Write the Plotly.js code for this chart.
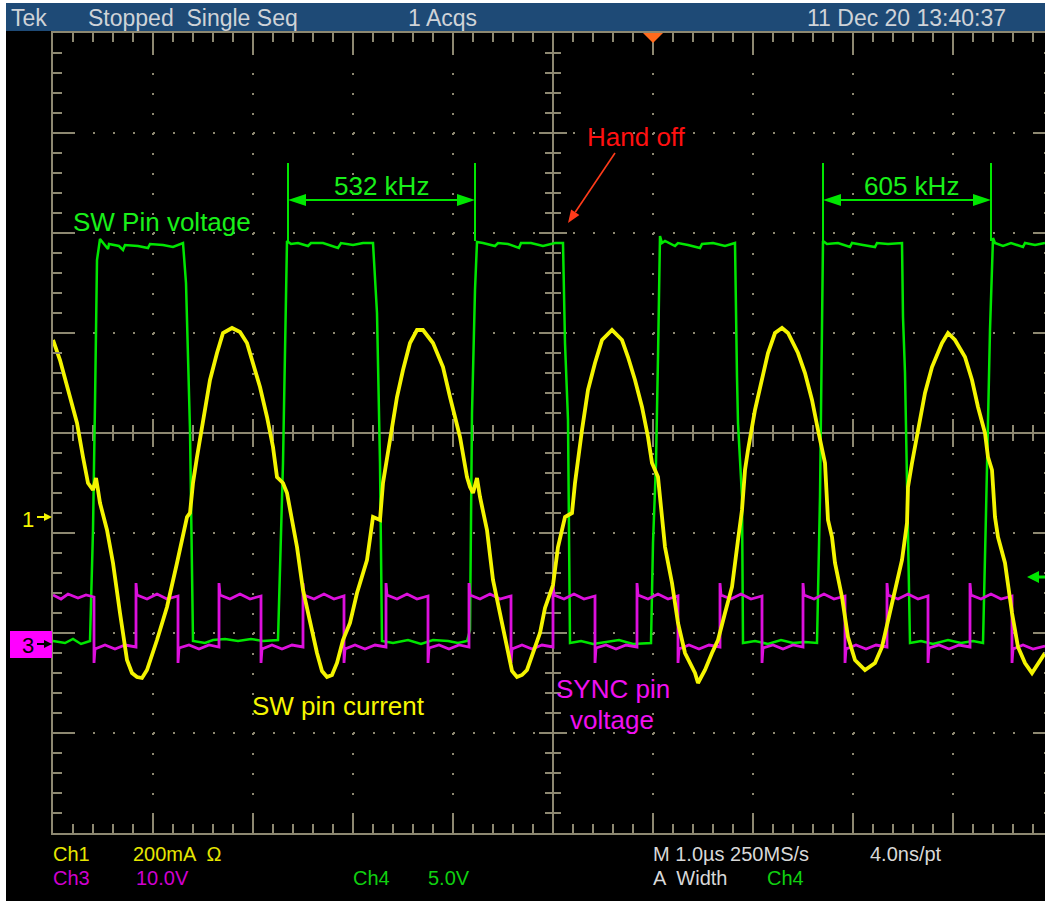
<!DOCTYPE html>
<html><head><meta charset="utf-8">
<script src="https://cdn.plot.ly/plotly-3.0.1.min.js"></script>
<style>
html,body{margin:0;padding:0;background:#fff;overflow:hidden}
#wrap{width:1045px;height:902px;overflow:hidden;position:relative}
#plot{width:1053px;height:902px}
</style>
</head><body><div id="wrap"><div id="plot"></div></div>
<script>
// Time in µs (1 µs/div, 0 = left graticule edge); vertical in screen divisions (0 = bottom)
// Ch4 – SW pin voltage (green)
const swVoltage = [[0,1.92],[0.12,1.90],[0.20,1.94],[0.28,1.89],[0.37,1.92],[0.40,3.03],[0.42,4.30],[0.44,5.73],[0.47,5.94],[0.52,5.88],[0.55,5.84],[0.56,5.89],[0.66,5.87],[0.70,5.83],[0.72,5.88],[0.85,5.87],[0.95,5.85],[0.97,5.89],[1.10,5.88],[1.20,5.86],[1.30,5.90],[1.33,5.50],[1.37,4.03],[1.40,1.92],[1.52,1.90],[1.60,1.93],[1.72,1.94],[1.85,1.92],[1.98,1.94],[2.10,1.92],[2.25,1.93],[2.30,3.70],[2.34,5.92],[2.38,5.89],[2.45,5.90],[2.55,5.87],[2.58,5.90],[2.70,5.90],[2.85,5.85],[2.88,5.90],[3.00,5.88],[3.10,5.90],[3.20,5.90],[3.24,5.20],[3.27,3.70],[3.29,1.92],[3.40,1.90],[3.55,1.93],[3.68,1.89],[3.80,1.93],[3.95,1.92],[4.05,1.90],[4.14,1.92],[4.17,2.03],[4.19,4.20],[4.22,5.43],[4.24,5.91],[4.30,5.90],[4.42,5.87],[4.45,5.90],[4.55,5.89],[4.66,5.85],[4.68,5.90],[4.78,5.90],[4.90,5.87],[5.02,5.90],[5.10,5.90],[5.12,4.90],[5.15,4.13],[5.17,1.90],[5.28,1.92],[5.40,1.89],[5.52,1.91],[5.66,1.93],[5.80,1.89],[5.98,1.90],[6.00,2.90],[6.03,3.70],[6.05,4.76],[6.07,5.97],[6.09,5.90],[6.12,5.92],[6.22,5.87],[6.25,5.90],[6.35,5.88],[6.47,5.85],[6.49,5.89],[6.60,5.90],[6.72,5.87],[6.82,5.90],[6.84,4.56],[6.85,4.10],[6.89,3.36],[6.90,1.90],[7.02,1.92],[7.15,1.89],[7.28,1.93],[7.40,1.90],[7.52,1.91],[7.64,1.90],[7.67,3.36],[7.70,5.92],[7.74,5.89],[7.85,5.90],[7.97,5.86],[7.99,5.90],[8.10,5.88],[8.22,5.86],[8.24,5.90],[8.35,5.89],[8.49,5.90],[8.50,5.16],[8.52,4.60],[8.53,4.10],[8.55,3.20],[8.57,1.90],[8.68,1.92],[8.80,1.89],[8.95,1.93],[9.08,1.90],[9.20,1.92],[9.30,1.90],[9.33,3.20],[9.37,5.03],[9.40,5.95],[9.42,5.90],[9.50,5.87],[9.58,5.90],[9.70,5.86],[9.72,5.90],[9.82,5.88],[9.92,5.90]];

// Ch3 – SYNC pin voltage (magenta)
const syncVoltage = [[0,2.38],[0.08,2.34],[0.15,2.39],[0.25,2.35],[0.33,2.38],[0.41,2.36],
[0.41,1.70],[0.42,1.84],[0.52,1.88],[0.62,1.84],[0.72,1.88],[0.83,1.86],
[0.83,2.50],[0.84,2.38],[0.94,2.34],[1.04,2.39],[1.14,2.34],[1.25,2.37],
[1.25,1.70],[1.26,1.85],[1.36,1.88],[1.46,1.84],[1.56,1.88],[1.66,1.86],
[1.66,2.50],[1.67,2.38],[1.77,2.34],[1.87,2.39],[1.97,2.34],[2.08,2.37],
[2.08,1.70],[2.09,1.84],[2.19,1.88],[2.29,1.84],[2.39,1.88],[2.50,1.86],
[2.50,2.50],[2.51,2.38],[2.61,2.34],[2.71,2.39],[2.81,2.34],[2.91,2.37],
[2.91,1.70],[2.92,1.84],[3.02,1.88],[3.12,1.84],[3.22,1.88],[3.33,1.86],
[3.33,2.50],[3.34,2.38],[3.44,2.34],[3.54,2.39],[3.64,2.34],[3.75,2.37],
[3.75,1.70],[3.76,1.85],[3.86,1.88],[3.96,1.84],[4.06,1.88],[4.16,1.86],
[4.16,2.50],[4.17,2.38],[4.27,2.34],[4.37,2.39],[4.47,2.34],[4.58,2.37],
[4.58,1.70],[4.59,1.84],[4.69,1.88],[4.79,1.84],[4.89,1.88],[5.00,1.86],
[5.00,2.50],[5.01,2.38],[5.11,2.34],[5.21,2.39],[5.31,2.34],[5.42,2.37],
[5.42,1.70],[5.43,1.85],[5.53,1.88],[5.63,1.84],[5.73,1.88],[5.84,1.86],
[5.84,2.50],[5.85,2.38],[5.95,2.34],[6.05,2.39],[6.15,2.34],[6.25,2.37],
[6.25,1.70],[6.26,1.84],[6.36,1.88],[6.46,1.84],[6.56,1.88],[6.67,1.86],
[6.67,2.50],[6.68,2.38],[6.78,2.34],[6.88,2.39],[6.98,2.34],[7.09,2.37],
[7.09,1.70],[7.10,1.85],[7.20,1.88],[7.30,1.84],[7.40,1.88],[7.50,1.86],
[7.50,2.50],[7.51,2.38],[7.61,2.34],[7.71,2.39],[7.81,2.34],[7.92,2.37],
[7.92,1.70],[7.93,1.84],[8.03,1.88],[8.13,1.84],[8.23,1.88],[8.34,1.86],
[8.34,2.50],[8.35,2.38],[8.45,2.34],[8.55,2.39],[8.65,2.34],[8.75,2.37],
[8.75,1.70],[8.76,1.85],[8.86,1.88],[8.96,1.84],[9.06,1.88],[9.17,1.86],
[9.17,2.50],[9.18,2.38],[9.28,2.34],[9.38,2.39],[9.48,2.34],[9.59,2.37],
[9.59,1.70],[9.60,1.84],[9.70,1.88],[9.80,1.84],[9.92,1.87]];

// Ch1 – SW pin current (yellow)
const swCurrent = [[0.00,4.93],[0.07,4.73],[0.17,4.36],[0.24,4.10],[0.30,3.76],[0.35,3.50],[0.40,3.43],[0.43,3.55],[0.45,3.43],[0.47,3.30],[0.54,3.03],[0.60,2.70],[0.67,2.20],[0.74,1.73],[0.79,1.60],[0.84,1.56],[0.89,1.55],[0.94,1.63],[1.04,1.93],[1.14,2.26],[1.24,2.70],[1.34,3.16],[1.37,3.20],[1.40,3.50],[1.44,3.76],[1.50,4.13],[1.57,4.53],[1.64,4.80],[1.70,5.00],[1.79,5.05],[1.87,5.01],[1.94,4.90],[2.00,4.70],[2.07,4.46],[2.14,4.16],[2.20,3.86],[2.24,3.56],[2.30,3.50],[2.34,3.40],[2.37,3.23],[2.44,2.86],[2.50,2.43],[2.57,2.10],[2.64,1.80],[2.69,1.62],[2.74,1.56],[2.79,1.58],[2.84,1.70],[2.90,1.93],[2.97,2.10],[3.04,2.40],[3.14,2.73],[3.20,3.16],[3.27,3.13],[3.30,3.50],[3.37,3.96],[3.44,4.36],[3.50,4.63],[3.57,4.90],[3.64,5.03],[3.70,5.03],[3.80,4.90],[3.90,4.66],[3.97,4.36],[4.07,3.96],[4.14,3.56],[4.17,3.46],[4.20,3.40],[4.24,3.55],[4.27,3.36],[4.34,3.03],[4.40,2.53],[4.47,2.20],[4.54,1.83],[4.59,1.62],[4.64,1.56],[4.69,1.58],[4.74,1.63],[4.80,1.80],[4.87,2.00],[4.92,2.25],[4.97,2.40],[5.00,2.48],[5.05,2.86],[5.12,3.16],[5.19,3.20],[5.22,3.50],[5.29,4.03],[5.35,4.43],[5.42,4.70],[5.49,4.93],[5.59,5.03],[5.69,4.93],[5.75,4.76],[5.82,4.53],[5.89,4.26],[5.95,3.96],[5.99,3.70],[6.05,3.56],[6.09,3.16],[6.12,2.86],[6.19,2.50],[6.25,2.10],[6.32,1.80],[6.42,1.60],[6.45,1.50],[6.52,1.63],[6.59,1.80],[6.65,1.93],[6.72,2.20],[6.79,2.46],[6.85,2.93],[6.89,3.23],[6.92,3.63],[6.95,3.83],[7.02,4.23],[7.09,4.56],[7.15,4.80],[7.22,5.00],[7.29,5.05],[7.35,5.00],[7.45,4.80],[7.52,4.60],[7.59,4.33],[7.65,4.03],[7.69,3.86],[7.72,3.70],[7.75,3.13],[7.79,2.96],[7.82,2.70],[7.89,2.36],[7.95,1.96],[8.02,1.73],[8.12,1.63],[8.22,1.70],[8.29,1.86],[8.35,2.13],[8.42,2.43],[8.49,2.73],[8.54,3.10],[8.55,3.46],[8.59,3.70],[8.65,4.03],[8.72,4.40],[8.79,4.66],[8.89,4.90],[8.95,5.00],[9.02,4.93],[9.12,4.76],[9.19,4.53],[9.25,4.26],[9.32,4.00],[9.35,3.76],[9.39,3.63],[9.42,3.16],[9.45,2.96],[9.52,2.70],[9.59,2.20],[9.65,1.86],[9.72,1.70],[9.79,1.60],[9.85,1.70],[9.92,1.80]];

// Frequency markers (µs positions of the measured periods) and labels
const freqLabels = ["532 kHz", "605 kHz"];
const freqStart = [2.35, 7.70];
const freqEnd = [4.22, 9.38];

const headerTexts = ["Tek", "Stopped  Single Seq", "1 Acqs", "11 Dec 20 13:40:37"];
const footerRow1 = ["Ch1", "200mA  Ω", "M 1.0µs 250MS/s", "4.0ns/pt"];
const footerRow2 = ["Ch3", "10.0V", "Ch4", "5.0V", "A  Width", "Ch4"];

// ---------- styling ----------
const GRAT = '#8d8871';
const GREEN = '#00e600';
const YELLOW = '#f4f400';
const MAGENTA = '#dd10dd';
const TXTGREEN = '#19f019';
const px = v => (v - 53) / 1000;      // pixel -> paper x
const py = v => (833 - v) / 800;      // pixel -> paper y

// centre crosshair (graticule)
const gx = [], gy = [];
gx.push(5, 5, null, 0, 10, null); gy.push(0, 8, null, 4, 4, null);
for (let k = 1; k < 40; k++) { const v = k * 0.2; const h = (k % 5 === 0) ? 0.14 : 0.08; gx.push(5 - h, 5 + h, null); gy.push(v, v, null); }
for (let k = 1; k < 50; k++) { const t = k * 0.2; const h = (k % 5 === 0) ? 0.14 : 0.08; gx.push(t, t, null); gy.push(4 - h, 4 + h, null); }

const traces = [
  {x: gx, y: gy, mode: 'lines', line: {color: GRAT, width: 2}, hoverinfo: 'skip', showlegend: false},
  {x: swVoltage.map(p => p[0]), y: swVoltage.map(p => p[1]), mode: 'lines', line: {color: GREEN, width: 2.5}, showlegend: false},
  {x: syncVoltage.map(p => p[0]), y: syncVoltage.map(p => p[1]), mode: 'lines', line: {color: MAGENTA, width: 2.8}, showlegend: false},
  {x: swCurrent.map(p => p[0]), y: swCurrent.map(p => p[1]), mode: 'lines', line: {color: YELLOW, width: 3.8}, showlegend: false}
];

const shapes = [
  {type: 'rect', xref: 'paper', yref: 'paper', x0: px(6), x1: px(1060), y0: py(901), y1: py(31), fillcolor: '#000', line: {width: 0}, layer: 'below'},
  {type: 'rect', xref: 'paper', yref: 'paper', x0: px(6), x1: px(1060), y0: py(31), y1: py(3), fillcolor: '#1e4a76', line: {width: 0}},
  {type: 'path', xref: 'paper', yref: 'paper', path: `M ${px(643)} ${py(33)} L ${px(663)} ${py(33)} L ${px(653)} ${py(43)} Z`, fillcolor: '#ff6a1c', line: {width: 0}},
  // Ch3 ground marker box
  {type: 'rect', xref: 'paper', yref: 'paper', x0: px(10), x1: px(52), y0: py(658), y1: py(631), fillcolor: '#ff00ff', line: {width: 0}},
  {type: 'line', xref: 'paper', yref: 'paper', x0: px(37), x1: px(45), y0: py(644), y1: py(644), line: {color: '#000', width: 2}},
  {type: 'path', xref: 'paper', yref: 'paper', path: `M ${px(52)} ${py(644)} L ${px(44)} ${py(640)} L ${px(44)} ${py(648)} Z`, fillcolor: '#000', line: {width: 0}},
  // Ch1 marker arrow
  {type: 'line', xref: 'paper', yref: 'paper', x0: px(37), x1: px(45), y0: py(517), y1: py(517), line: {color: YELLOW, width: 2}},
  {type: 'path', xref: 'paper', yref: 'paper', path: `M ${px(52)} ${py(517)} L ${px(44)} ${py(513)} L ${px(44)} ${py(521)} Z`, fillcolor: YELLOW, line: {width: 0}},
  // right trigger-level arrow
  {type: 'line', xref: 'x', yref: 'y', x0: 9.85, x1: 10, y0: 2.56, y1: 2.56, line: {color: GREEN, width: 3}},
  {type: 'path', xref: 'x', yref: 'y', path: 'M 9.74 2.56 L 9.86 2.62 L 9.86 2.50 Z', fillcolor: GREEN, line: {width: 0}},
  // Hand off arrow
  {type: 'line', xref: 'x', yref: 'y', x0: 5.62, y0: 6.80, x1: 5.222, y1: 6.208, line: {color: '#ff3b1a', width: 1.6}},
  {type: 'path', xref: 'x', yref: 'y', path: 'M 5.15 6.10 L 5.264 6.18 L 5.181 6.236 Z', fillcolor: '#ff3b1a', line: {width: 0}}
];
freqStart.forEach((s, i) => {
  const e = freqEnd[i];
  shapes.push({type: 'line', xref: 'x', yref: 'y', x0: s, x1: s, y0: 5.92, y1: 6.70, line: {color: GREEN, width: 2}});
  shapes.push({type: 'line', xref: 'x', yref: 'y', x0: e, x1: e, y0: 5.92, y1: 6.70, line: {color: GREEN, width: 2}});
  shapes.push({type: 'line', xref: 'x', yref: 'y', x0: s + 0.1, x1: e - 0.1, y0: 6.33, y1: 6.33, line: {color: GREEN, width: 2}});
  shapes.push({type: 'path', xref: 'x', yref: 'y', path: `M ${s} 6.33 L ${s + 0.18} 6.39 L ${s + 0.18} 6.27 Z`, fillcolor: GREEN, line: {width: 0}});
  shapes.push({type: 'path', xref: 'x', yref: 'y', path: `M ${e} 6.33 L ${e - 0.18} 6.39 L ${e - 0.18} 6.27 Z`, fillcolor: GREEN, line: {width: 0}});
});

const hdrFont = {family: 'Liberation Sans Narrow, Arial Narrow, sans-serif', size: 23, color: '#cfd3d8'};
const ftFont = c => ({family: 'Liberation Sans, Arial, sans-serif', size: 20, color: c});
const annFont = c => ({family: 'Liberation Sans, Arial, Helvetica, sans-serif', size: 26, color: c});
const A = (o) => Object.assign({showarrow: false, borderpad: 0, xanchor: 'left', yanchor: 'middle'}, o);

const annotations = [
  A({xref: 'paper', yref: 'paper', x: px(10), y: py(18), text: headerTexts[0], font: hdrFont}),
  A({xref: 'paper', yref: 'paper', x: px(87), y: py(18), text: headerTexts[1], font: hdrFont}),
  A({xref: 'paper', yref: 'paper', x: px(407), y: py(18), text: headerTexts[2], font: hdrFont}),
  A({xref: 'paper', yref: 'paper', x: px(806), y: py(18), text: headerTexts[3], font: hdrFont}),
  A({xref: 'paper', yref: 'paper', x: px(52), y: py(854), text: footerRow1[0], font: ftFont('#e6e600')}),
  A({xref: 'paper', yref: 'paper', x: px(132), y: py(854), text: footerRow1[1], font: ftFont('#e6e600')}),
  A({xref: 'paper', yref: 'paper', x: px(652), y: py(854), text: footerRow1[2], font: ftFont('#d8d8d8')}),
  A({xref: 'paper', yref: 'paper', x: px(869), y: py(854), text: footerRow1[3], font: ftFont('#d8d8d8')}),
  A({xref: 'paper', yref: 'paper', x: px(52), y: py(878), text: footerRow2[0], font: ftFont('#d000d0')}),
  A({xref: 'paper', yref: 'paper', x: px(135), y: py(878), text: footerRow2[1], font: ftFont('#d000d0')}),
  A({xref: 'paper', yref: 'paper', x: px(352), y: py(878), text: footerRow2[2], font: ftFont('#10d010')}),
  A({xref: 'paper', yref: 'paper', x: px(427), y: py(878), text: footerRow2[3], font: ftFont('#10d010')}),
  A({xref: 'paper', yref: 'paper', x: px(652), y: py(878), text: footerRow2[4], font: ftFont('#d8d8d8')}),
  A({xref: 'paper', yref: 'paper', x: px(766), y: py(878), text: footerRow2[5], font: ftFont('#10d010')}),
  A({xref: 'paper', yref: 'paper', x: px(28), y: py(519), xanchor: 'center', text: '1', font: {family: 'Liberation Sans Narrow, sans-serif', size: 22, color: YELLOW}}),
  A({xref: 'paper', yref: 'paper', x: px(28), y: py(645), xanchor: 'center', text: '3', font: {family: 'Liberation Sans Narrow, sans-serif', size: 22, color: '#000'}}),
  A({xref: 'x', yref: 'y', x: 1.09, y: 6.11, xanchor: 'center', text: 'SW Pin voltage', font: annFont(TXTGREEN)}),
  A({xref: 'x', yref: 'y', x: (freqStart[0] + freqEnd[0]) / 2, y: 6.47, xanchor: 'center', text: freqLabels[0], font: annFont(TXTGREEN)}),
  A({xref: 'x', yref: 'y', x: (freqStart[1] + freqEnd[1]) / 2 + 0.04, y: 6.47, xanchor: 'center', text: freqLabels[1], font: annFont(TXTGREEN)}),
  A({xref: 'x', yref: 'y', x: 5.83, y: 6.96, xanchor: 'center', text: 'Hand off', font: annFont('#ff1010')}),
  A({xref: 'x', yref: 'y', x: 2.855, y: 1.27, xanchor: 'center', text: 'SW pin current', font: annFont('#f6f600')}),
  A({xref: 'x', yref: 'y', x: 5.595, y: 1.44, xanchor: 'center', text: 'SYNC pin', font: annFont('#f010f0')}),
  A({xref: 'x', yref: 'y', x: 5.59, y: 1.13, xanchor: 'center', text: 'voltage', font: annFont('#f010f0')})
];

const axisBase = {
  showgrid: true, gridcolor: GRAT, gridwidth: 2, griddash: '2px,18px',
  dtick: 1, tick0: 0, ticks: 'inside', ticklen: 20, tickwidth: 2, tickcolor: GRAT,
  minor: {dtick: 0.2, tick0: 0, ticks: 'inside', ticklen: 9, tickwidth: 2, tickcolor: GRAT, showgrid: false},
  showline: true, linecolor: GRAT, linewidth: 2, mirror: 'ticks',
  zeroline: false, showticklabels: false, fixedrange: true
};

const layout = {
  width: 1053, height: 902,
  margin: {l: 53, r: 0, t: 33, b: 69},
  paper_bgcolor: '#ffffff', plot_bgcolor: 'rgba(0,0,0,0)',
  xaxis: Object.assign({}, axisBase, {range: [0, 10]}),
  yaxis: Object.assign({}, axisBase, {range: [0, 8]}),
  shapes: shapes, annotations: annotations,
  hovermode: false, showlegend: false
};

Plotly.newPlot('plot', traces, layout, {staticPlot: true, displayModeBar: false});
</script>
</body></html>
